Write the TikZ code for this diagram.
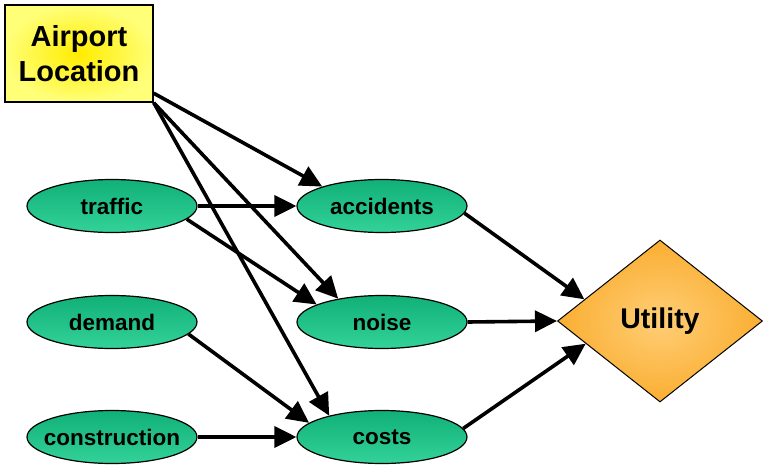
\documentclass[tikz,border=0pt]{standalone}
\usepackage{fontspec}
\setmainfont{Liberation Sans}
\usetikzlibrary{shapes.geometric,arrows.meta}
\definecolor{greentop}{RGB}{16,176,120}
\definecolor{greenbot}{RGB}{50,210,152}
\definecolor{yellowin}{RGB}{255,236,0}
\definecolor{yellowout}{RGB}{255,255,120}
\definecolor{orangein}{RGB}{255,206,118}
\definecolor{orangeout}{RGB}{250,174,50}
\begin{document}
\begin{tikzpicture}[x=1pt,y=-1pt,
  decisionbox/.style={rectangle, draw=black, line width=1.5pt,
    inner color=yellowin, outer color=yellowout,
    minimum width=148pt, minimum height=97pt, inner sep=0pt, align=center,
    font=\bfseries\fontsize{29}{35}\selectfont},
  chancenode/.style={ellipse, draw=black, line width=1.2pt,
    top color=greentop, bottom color=greenbot,
    minimum width=170pt, minimum height=53pt, inner xsep=-20pt, inner ysep=0pt,
    font=\bfseries\fontsize{22.5}{26}\selectfont},
  valuenode/.style={diamond, draw=black, line width=1pt,
    inner color=orangein, outer color=orangeout,
    minimum width=205pt, minimum height=162pt, inner sep=0pt,
    font=\bfseries\fontsize{28.5}{34}\selectfont},
  link/.style={line width=3.6pt, -{Triangle[length=22pt,width=21pt]}}]
  \useasboundingbox (0,0) rectangle (764,469);

  % nodes
  \node[decisionbox] (air) at (79,53.5) {Airport\\Location};
  \node[chancenode] (traffic) at (112,206) {traffic};
  \node[chancenode] (demand) at (112,322) {demand};
  \node[chancenode] (constr) at (112,437) {construction};
  \node[chancenode] (acc) at (382,206) {accidents};
  \node[chancenode] (noise) at (382,322) {noise};
  \node[chancenode] (costs) at (382,437) {costs};
  \node[valuenode] (util) at (660,321) {Utility};

  % influences
  \draw[link] (air.-28) -- (acc.162);
  \draw[link] (air.south east) -- (noise.152.6);
  \draw[link] (air.south east) -- (costs.158);
  \draw[link] (traffic.east) -- (acc.west);
  \draw[link] (traffic.-10) -- (noise.165.8);
  \draw[link] (demand.-9) -- (costs.169);
  \draw[link] (constr.east) -- (costs.west);
  \draw[link] (acc.-5) -- (util.164.9);
  \draw[link] (noise.east) -- (util.west);
  \draw[link] (costs.6) -- (util.197.1);
\end{tikzpicture}
\end{document}
